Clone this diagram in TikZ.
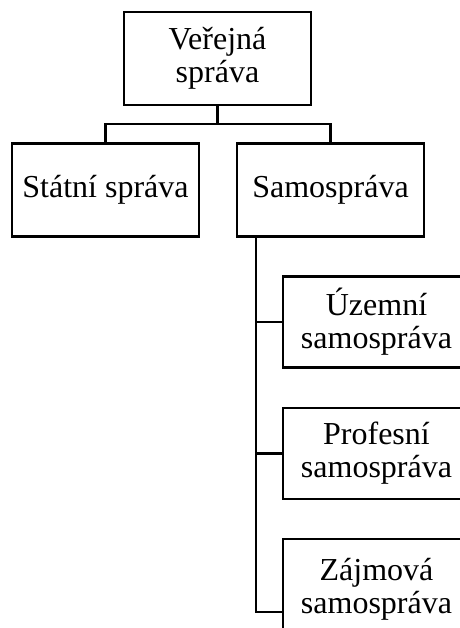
\documentclass[tikz,border=0pt]{standalone}
\usepackage{fontspec}
\setmainfont{Liberation Serif}
\begin{document}
\begin{tikzpicture}[x=1pt,y=-1pt,
  box/.style={draw,line width=2.8pt,minimum width=187pt,minimum height=93pt,align=center,inner sep=0pt,font=\fontsize{32}{33}\selectfont},
  conn/.style={line width=2.8pt}]
\useasboundingbox (0,0) rectangle (459,628);
\node[box] (ver) at (217.5,58.5) {Veřejná\\správa};
\node[box] (stat) at (105.5,190) {Státní správa};
\node[box] (samo) at (330.5,190) {Samospráva};
\node[box,minimum height=91pt] (uz) at (376.5,322) {Územní\\samospráva};
\node[box,minimum height=91pt] (prof) at (376.5,453.5) {Profesní\\samospráva};
\node[box,minimum height=100pt] (zaj) at (376.5,589) {Zájmová\\samospráva};
\coordinate (j) at (217.5,124);
\coordinate (s) at (256,237);
\draw[conn] (ver.south) -- (j);
\draw[conn] (stat.north) |- (j) -| (samo.north);
\draw[conn] (s) |- (uz.west);
\draw[conn] (s) |- (prof.west);
\coordinate (zb) at (283,612);
\draw[conn] (s) |- (zb);
\end{tikzpicture}
\end{document}
